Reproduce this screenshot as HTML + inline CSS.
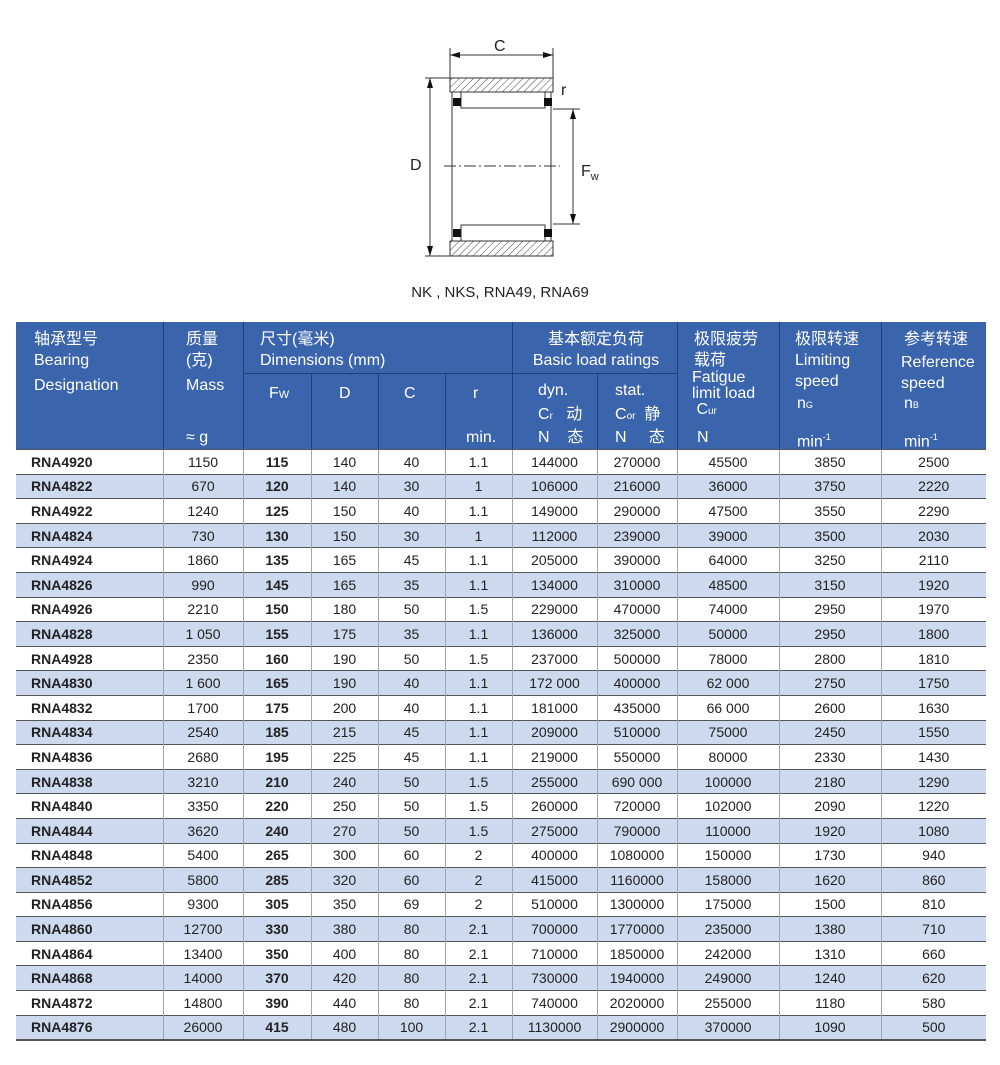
<!DOCTYPE html>
<html><head><meta charset="utf-8"><style>
body{margin:0;background:#fff;width:1000px;height:1065px;position:relative;overflow:hidden;font-family:"Liberation Sans","Noto Sans CJK SC",sans-serif}
svg{position:absolute;left:0;top:0}
table{position:absolute;left:16px;top:322px;border-collapse:collapse;table-layout:fixed;width:970px}
td{padding:0;font-size:14px;color:#222;text-align:center;height:23.6px;border-top:1px solid #555;border-left:1px solid #9aa;}
td:first-child{border-left:none;text-align:left;padding-left:15px;font-weight:bold}
td.b{font-weight:bold}
tr.a td{background:#cdd9ee}
tbody tr:last-child td{border-bottom:2px solid #555}
.h{position:absolute;left:16px;top:322px;width:970px;height:127px;background:#3a64ab}
.t{position:absolute;color:#fff;font-size:16px;line-height:21px}
.l{position:absolute;background:#1e3f7a;width:1px}
</style></head><body>
<svg width="1000" height="310">
<defs><pattern id="hp" width="5" height="5" patternUnits="userSpaceOnUse" patternTransform="rotate(45)"><line x1="0" y1="0" x2="0" y2="5" stroke="#444" stroke-width="1"/></pattern></defs>
<g stroke="#333" stroke-width="1" fill="none">
<line x1="450" y1="48" x2="450" y2="78"/><line x1="553" y1="48" x2="553" y2="78"/>
<line x1="450" y1="55" x2="553" y2="55"/>
<line x1="425" y1="78" x2="450" y2="78"/><line x1="425" y1="256" x2="450" y2="256"/>
<line x1="430" y1="78" x2="430" y2="256"/>
<line x1="553" y1="109" x2="580" y2="109"/><line x1="553" y1="224" x2="580" y2="224"/>
<line x1="573" y1="109" x2="573" y2="224"/>
<path d="M450 78 H553 V92 H450 Z" fill="url(#hp)"/>
<path d="M450 241 H553 V256 H450 Z" fill="url(#hp)"/>
<rect x="461" y="92" width="84" height="16"/><rect x="461" y="225" width="84" height="16"/>
<line x1="452" y1="92" x2="452" y2="241"/><line x1="551" y1="92" x2="551" y2="241"/>
<line x1="444" y1="166" x2="560" y2="166" stroke-dasharray="12 3 2 3"/>
</g>
<g fill="#111"><rect x="453" y="98" width="8" height="8"/><rect x="544" y="98" width="8" height="8"/><rect x="453" y="229" width="8" height="8"/><rect x="544" y="229" width="8" height="8"/>
<path d="M450 55 l10 -3 v6z M553 55 l-10 -3 v6z M430 78 l-3 10 h6z M430 256 l-3 -10 h6z M573 109 l-3 10 h6z M573 224 l-3 -10 h6z"/></g>
<g font-family="Liberation Sans,sans-serif" fill="#222">
<text x="494" y="51" font-size="16">C</text><text x="410" y="170" font-size="16">D</text>
<text x="581" y="176" font-size="16">F<tspan font-size="11" dy="4">w</tspan></text>
<text x="561" y="95" font-size="16">r</text>
<text x="500" y="297" font-size="15" text-anchor="middle">NK , NKS, RNA49, RNA69</text></g>
</svg>
<div class="h"></div>
<div class="l" style="left:163px;top:322px;height:127px"></div>
<div class="l" style="left:243px;top:322px;height:127px"></div>
<div class="l" style="left:311px;top:373px;height:76px"></div>
<div class="l" style="left:378px;top:373px;height:76px"></div>
<div class="l" style="left:445px;top:373px;height:76px"></div>
<div class="l" style="left:512px;top:322px;height:127px"></div>
<div class="l" style="left:597px;top:373px;height:76px"></div>
<div class="l" style="left:677px;top:322px;height:127px"></div>
<div class="l" style="left:779px;top:322px;height:127px"></div>
<div class="l" style="left:881px;top:322px;height:127px"></div>
<div style="position:absolute;left:243px;top:373px;width:434px;height:1px;background:#1e3f7a"></div>
<div class="t" style="left:34px;top:329px">轴承型号<br>Bearing</div>
<div class="t" style="left:34px;top:375px">Designation</div>
<div class="t" style="left:186px;top:329px">质量<br>(克)</div>
<div class="t" style="left:186px;top:375px">Mass</div>
<div class="t" style="left:186px;top:427px">≈ g</div>
<div class="t" style="left:260px;top:329px">尺寸(毫米)<br>Dimensions (mm)</div>
<div class="t" style="left:269px;top:383px">F<span style="font-size:11px">W</span></div>
<div class="t" style="left:339px;top:383px">D</div>
<div class="t" style="left:404px;top:383px">C</div>
<div class="t" style="left:473px;top:383px">r</div>
<div class="t" style="left:466px;top:427px">min.</div>
<div class="t" style="top:329px;width:150px;text-align:center;left:521px">基本额定负荷<br>Basic load ratings</div>
<div class="t" style="left:538px;top:380px">dyn.</div>
<div class="t" style="left:538px;top:404px">C<span style="font-size:10px">r</span>&nbsp;&nbsp;&nbsp;动</div>
<div class="t" style="left:538px;top:427px">N&nbsp;&nbsp;&nbsp;&nbsp;态</div>
<div class="t" style="left:615px;top:380px">stat.</div>
<div class="t" style="left:615px;top:404px">C<span style="font-size:10px">or</span>&nbsp;&nbsp;静</div>
<div class="t" style="left:615px;top:427px">N&nbsp;&nbsp;&nbsp;&nbsp;&nbsp;态</div>
<div class="t" style="left:694px;top:329px">极限疲劳<br>载荷</div>
<div class="t" style="left:692px;top:370px;line-height:16px">Fatigue<br>limit load<br>&nbsp;C<span style="font-size:10px">ur</span></div>
<div class="t" style="left:697px;top:427px">N</div>
<div class="t" style="left:795px;top:329px">极限转速<br>Limiting<br>speed</div>
<div class="t" style="left:797px;top:393px">n<span style="font-size:9px">G</span></div>
<div class="t" style="left:797px;top:427px">min<sup style="font-size:9px">-1</sup></div>
<div class="t" style="left:904px;top:329px">参考转速</div>
<div class="t" style="left:901px;top:352px">Reference<br>speed</div>
<div class="t" style="left:904px;top:393px">n<span style="font-size:9px">B</span></div>
<div class="t" style="left:904px;top:427px">min<sup style="font-size:9px">-1</sup></div>
<table style="top:449px">
<colgroup><col style="width:147px"><col style="width:80px"><col style="width:68px"><col style="width:67px"><col style="width:67px"><col style="width:67px"><col style="width:85px"><col style="width:80px"><col style="width:102px"><col style="width:102px"><col style="width:105px"></colgroup>
<tbody>
<tr><td>RNA4920</td><td>1150</td><td class="b">115</td><td>140</td><td>40</td><td>1.1</td><td>144000</td><td>270000</td><td>45500</td><td>3850</td><td>2500</td></tr>
<tr class="a"><td>RNA4822</td><td>670</td><td class="b">120</td><td>140</td><td>30</td><td>1</td><td>106000</td><td>216000</td><td>36000</td><td>3750</td><td>2220</td></tr>
<tr><td>RNA4922</td><td>1240</td><td class="b">125</td><td>150</td><td>40</td><td>1.1</td><td>149000</td><td>290000</td><td>47500</td><td>3550</td><td>2290</td></tr>
<tr class="a"><td>RNA4824</td><td>730</td><td class="b">130</td><td>150</td><td>30</td><td>1</td><td>112000</td><td>239000</td><td>39000</td><td>3500</td><td>2030</td></tr>
<tr><td>RNA4924</td><td>1860</td><td class="b">135</td><td>165</td><td>45</td><td>1.1</td><td>205000</td><td>390000</td><td>64000</td><td>3250</td><td>2110</td></tr>
<tr class="a"><td>RNA4826</td><td>990</td><td class="b">145</td><td>165</td><td>35</td><td>1.1</td><td>134000</td><td>310000</td><td>48500</td><td>3150</td><td>1920</td></tr>
<tr><td>RNA4926</td><td>2210</td><td class="b">150</td><td>180</td><td>50</td><td>1.5</td><td>229000</td><td>470000</td><td>74000</td><td>2950</td><td>1970</td></tr>
<tr class="a"><td>RNA4828</td><td>1 050</td><td class="b">155</td><td>175</td><td>35</td><td>1.1</td><td>136000</td><td>325000</td><td>50000</td><td>2950</td><td>1800</td></tr>
<tr><td>RNA4928</td><td>2350</td><td class="b">160</td><td>190</td><td>50</td><td>1.5</td><td>237000</td><td>500000</td><td>78000</td><td>2800</td><td>1810</td></tr>
<tr class="a"><td>RNA4830</td><td>1 600</td><td class="b">165</td><td>190</td><td>40</td><td>1.1</td><td>172 000</td><td>400000</td><td>62 000</td><td>2750</td><td>1750</td></tr>
<tr><td>RNA4832</td><td>1700</td><td class="b">175</td><td>200</td><td>40</td><td>1.1</td><td>181000</td><td>435000</td><td>66 000</td><td>2600</td><td>1630</td></tr>
<tr class="a"><td>RNA4834</td><td>2540</td><td class="b">185</td><td>215</td><td>45</td><td>1.1</td><td>209000</td><td>510000</td><td>75000</td><td>2450</td><td>1550</td></tr>
<tr><td>RNA4836</td><td>2680</td><td class="b">195</td><td>225</td><td>45</td><td>1.1</td><td>219000</td><td>550000</td><td>80000</td><td>2330</td><td>1430</td></tr>
<tr class="a"><td>RNA4838</td><td>3210</td><td class="b">210</td><td>240</td><td>50</td><td>1.5</td><td>255000</td><td>690 000</td><td>100000</td><td>2180</td><td>1290</td></tr>
<tr><td>RNA4840</td><td>3350</td><td class="b">220</td><td>250</td><td>50</td><td>1.5</td><td>260000</td><td>720000</td><td>102000</td><td>2090</td><td>1220</td></tr>
<tr class="a"><td>RNA4844</td><td>3620</td><td class="b">240</td><td>270</td><td>50</td><td>1.5</td><td>275000</td><td>790000</td><td>110000</td><td>1920</td><td>1080</td></tr>
<tr><td>RNA4848</td><td>5400</td><td class="b">265</td><td>300</td><td>60</td><td>2</td><td>400000</td><td>1080000</td><td>150000</td><td>1730</td><td>940</td></tr>
<tr class="a"><td>RNA4852</td><td>5800</td><td class="b">285</td><td>320</td><td>60</td><td>2</td><td>415000</td><td>1160000</td><td>158000</td><td>1620</td><td>860</td></tr>
<tr><td>RNA4856</td><td>9300</td><td class="b">305</td><td>350</td><td>69</td><td>2</td><td>510000</td><td>1300000</td><td>175000</td><td>1500</td><td>810</td></tr>
<tr class="a"><td>RNA4860</td><td>12700</td><td class="b">330</td><td>380</td><td>80</td><td>2.1</td><td>700000</td><td>1770000</td><td>235000</td><td>1380</td><td>710</td></tr>
<tr><td>RNA4864</td><td>13400</td><td class="b">350</td><td>400</td><td>80</td><td>2.1</td><td>710000</td><td>1850000</td><td>242000</td><td>1310</td><td>660</td></tr>
<tr class="a"><td>RNA4868</td><td>14000</td><td class="b">370</td><td>420</td><td>80</td><td>2.1</td><td>730000</td><td>1940000</td><td>249000</td><td>1240</td><td>620</td></tr>
<tr><td>RNA4872</td><td>14800</td><td class="b">390</td><td>440</td><td>80</td><td>2.1</td><td>740000</td><td>2020000</td><td>255000</td><td>1180</td><td>580</td></tr>
<tr class="a"><td>RNA4876</td><td>26000</td><td class="b">415</td><td>480</td><td>100</td><td>2.1</td><td>1130000</td><td>2900000</td><td>370000</td><td>1090</td><td>500</td></tr>
</tbody></table>
</body></html>
